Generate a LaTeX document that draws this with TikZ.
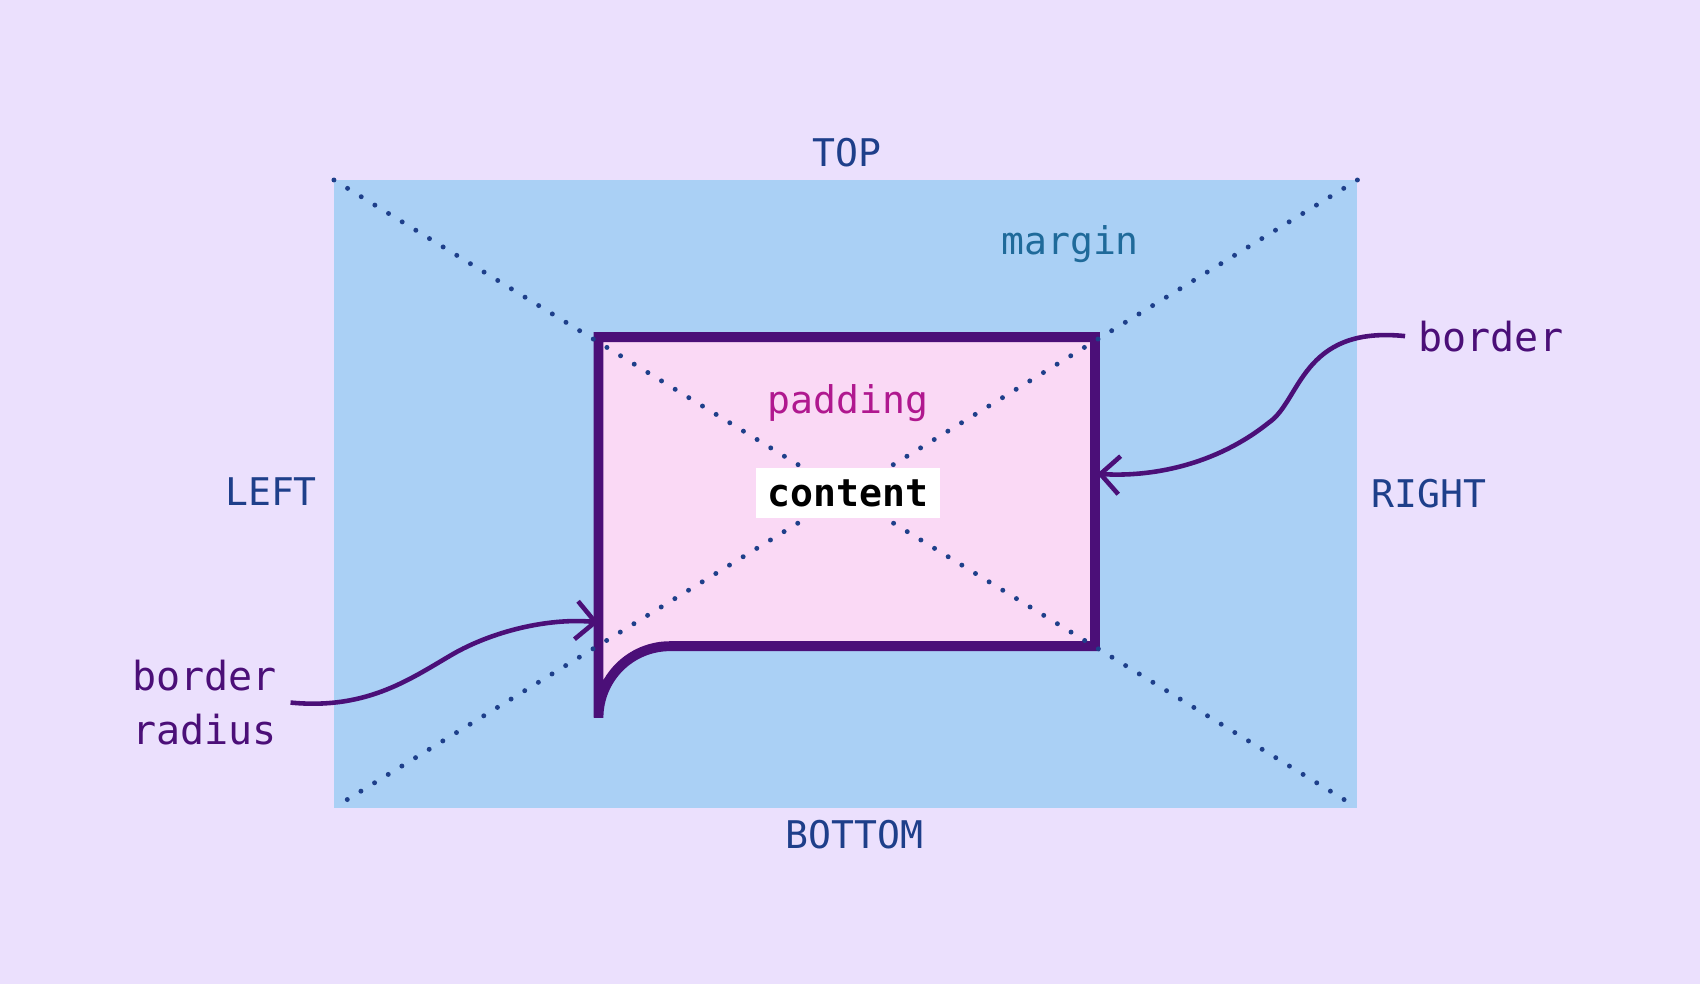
\documentclass[tikz,border=0pt]{standalone}
\usepackage{fontspec}
\setmonofont{DejaVu Sans Mono}
\usetikzlibrary{arrows.meta}
\definecolor{bgcol}{HTML}{EBE0FD}
\definecolor{margincol}{HTML}{AAD0F5}
\definecolor{padcol}{HTML}{FAD9F5}
\definecolor{bordercol}{HTML}{4B0F78}
\definecolor{sidecol}{HTML}{1E3F8A}
\definecolor{padtext}{HTML}{B0188F}
\definecolor{margintext}{HTML}{1F6A9A}
\tikzset{
  side/.style={font=\ttfamily\fontsize{10}{12}\selectfont, text=sidecol},
  note/.style={font=\ttfamily\fontsize{10.5}{14}\selectfont, text=bordercol, align=left},
  diag/.style={sidecol, line width=1.3pt, dash pattern=on 0pt off 4.2pt, line cap=round},
  pointer/.style={bordercol, line width=1.2pt, -{Straight Barb[length=5pt,width=10pt]}}
}
\begin{document}
\begin{tikzpicture}[x=0.01cm, y=-0.01cm]
    \fill[bgcol] (0,0) rectangle (1568,908);
    \useasboundingbox (0,0) rectangle (1568,908);
    % margin area and its corners
    \fill[margincol] (308,166) rectangle (1252,745);
    \coordinate (tl) at (308,166);
    \coordinate (tr) at (1252,166);
    \coordinate (bl) at (308,745);
    \coordinate (br) at (1252,745);
    % bordered box
    \draw[bordercol, fill=padcol, line width=2.6pt]
      (552,311) -- (1010,311) -- (1010,596) -- (618,596)
      arc[start angle=270, end angle=180, radius=66] -- cycle;
    \draw[diag] (tl) -- (br);
    \draw[diag] (tr) -- (bl);
    \node[fill=white, inner sep=3pt, font=\ttfamily\bfseries\fontsize{10}{12}\selectfont] (content) at (782,455) {content};
    \node[font=\ttfamily\fontsize{10}{12}\selectfont, text=padtext] (padding) at (782,372) {padding};
    \node[font=\ttfamily\fontsize{10}{12}\selectfont, text=margintext] (margin) at (987,225) {margin};
    \node[side] (top) at (781,141) {TOP};
    \node[side] (bottom) at (788,770) {BOTTOM};
    \node[side] (left) at (250,453) {LEFT};
    \node[side] (right) at (1318,455) {RIGHT};
    % callouts
    \node[note, anchor=west] (border) at (1296,310) {border};
    \coordinate (bordertip) at (1012,437);
    \draw[pointer] (border.west) .. controls (1200,300) and (1200,370) .. (1170,390)
      .. controls (1120,430) and (1060,440) .. (bordertip);
    \node[note, anchor=east] (radius) at (268,648) {border\\radius};
    \coordinate (radiustip) at (552,574);
    \draw[pointer] (radius.east) .. controls (340,655) and (380,625) .. (420,602)
      .. controls (460,580) and (510,570) .. (radiustip);
\end{tikzpicture}
\end{document}
